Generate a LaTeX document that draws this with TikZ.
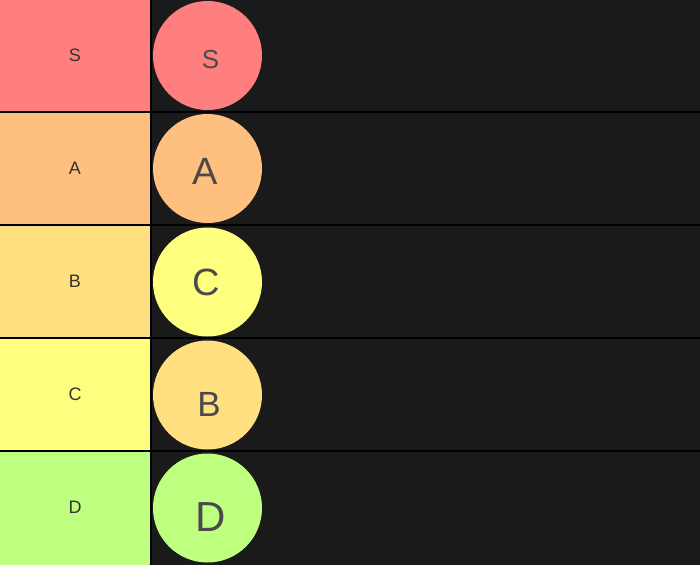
\documentclass[tikz,border=0pt]{standalone}
\usepackage{fontspec}
\setmainfont{Liberation Sans}
\definecolor{bgdark}{HTML}{1A1A1A}
\definecolor{tierS}{HTML}{FF7F7F}
\definecolor{tierA}{HTML}{FFBF7F}
\definecolor{tierB}{HTML}{FFDF7F}
\definecolor{tierC}{HTML}{FFFF7F}
\definecolor{tierD}{HTML}{BFFF7F}
\definecolor{labeltext}{HTML}{333333}
\definecolor{chiptext}{HTML}{4A4A4A}
\begin{document}
\begin{tikzpicture}[x=1pt,y=-1pt,
  tierlabel/.style={font=\fontsize{18}{18}\selectfont, text=labeltext, inner sep=0pt},
  chip/.style={circle, minimum size=109pt, inner sep=0pt},
  chiplabel/.style={text=chiptext, inner sep=0pt}]
\useasboundingbox (0,0) rectangle (700,565);
\fill[black] (0,0) rectangle (700,565);
% rows
\foreach \i/\c in {0/tierS,1/tierA,2/tierB,3/tierC,4/tierD}{
  \fill[\c] (0,{113*\i}) rectangle (150,{113*\i+111});
  \fill[bgdark] (152,{113*\i}) rectangle (700,{113*\i+111});
}
\fill[bgdark] (152,563) rectangle (700,565);
\fill[tierD] (0,563) rectangle (150,565);
% tier labels
\node[tierlabel] (ls) at (75,55.5) {S};
\node[tierlabel] (la) at (75,168.5) {A};
\node[tierlabel] (lb) at (75,281.5) {B};
\node[tierlabel] (lc) at (75,394.5) {C};
\node[tierlabel] (ld) at (75,507.5) {D};
% chips
\node[chip, fill=tierS] (cs) at (207.5,55.5) {};
\node[chip, fill=tierA] (ca) at (207.5,168.5) {};
\node[chip, fill=tierC] (cc) at (207.5,282) {};
\node[chip, fill=tierB] (cb) at (207.5,395) {};
\node[chip, fill=tierD] (cd) at (207.5,508) {};
\node[chiplabel, font=\fontsize{26}{26}\selectfont] (ts) at (210.5,60) {S};
\node[chiplabel, font=\fontsize{38}{38}\selectfont] (ta) at (205,171) {A};
\node[chiplabel, font=\fontsize{38}{38}\selectfont] (tc) at (206.5,282.5) {C};
\node[chiplabel, font=\fontsize{35}{35}\selectfont] (tb) at (209,404.5) {B};
\node[chiplabel, font=\fontsize{42}{42}\selectfont] (td) at (210.5,517.5) {D};
\end{tikzpicture}
\end{document}
